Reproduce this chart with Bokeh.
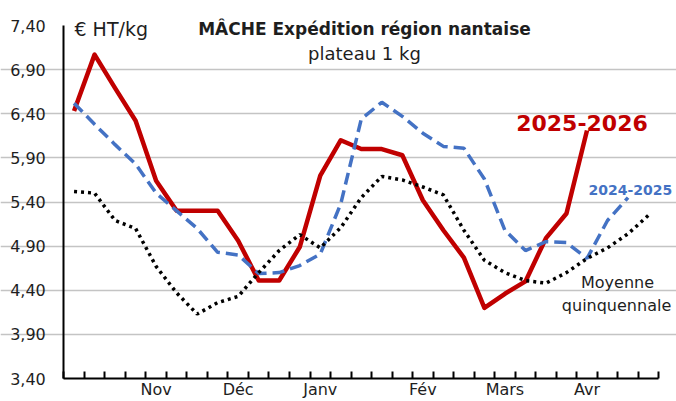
from bokeh.plotting import figure
from bokeh.models import Range1d, FixedTicker, CustomJSTickFormatter, Label, ColumnDataSource
from bokeh.embed import file_html
from bokeh.resources import INLINE

# ---- data (weekly prices, € HT/kg) ----
weeks = list(range(29))
s_2025_2026 = [6.43, 7.07, 6.69, 6.32, 5.64, 5.30, 5.30, 5.30, 4.96, 4.51, 4.51, 4.89, 5.70,
               6.10, 6.00, 6.00, 5.93, 5.42, 5.08, 4.77, 4.20, 4.36, 4.50, 4.99, 5.27, 6.21]
s_2024_2025 = [6.52, 6.28, 6.05, 5.83, 5.50, 5.30, 5.10, 4.83, 4.80, 4.59, 4.60, 4.68, 4.81, 5.38,
               6.34, 6.53, 6.37, 6.18, 6.03, 6.01, 5.66, 5.08, 4.85, 4.95, 4.94, 4.76, 5.19, 5.45]
s_moyenne = [5.52, 5.50, 5.19, 5.10, 4.67, 4.37, 4.13, 4.26, 4.33, 4.60, 4.85, 5.03, 4.88, 5.11,
             5.45, 5.69, 5.65, 5.57, 5.48, 5.08, 4.74, 4.60, 4.51, 4.48, 4.60, 4.76, 4.88, 5.04, 5.25]
month_labels = ["Nov", "Déc", "Janv", "Fév", "Mars", "Avr"]
month_pos = [4, 8, 12, 17, 21, 25]
y_ticks = [3.40, 3.90, 4.40, 4.90, 5.40, 5.90, 6.40, 6.90, 7.40]

FONT = "DejaVu Sans"
TXT = "#1e1e1e"
X0, X1 = -0.5, len(weeks) - 0.5

p = figure(width=676, height=401, output_backend="svg", toolbar_location=None,
           x_range=Range1d(-3.585, 29.363), y_range=Range1d(3.1394, 7.6833),
           min_border_left=0, min_border_right=0, min_border_top=0, min_border_bottom=0)
p.outline_line_color = None
p.background_fill_color = "white"
p.border_fill_color = "white"

# axes (drawn at the data edges of the chart area)
p.yaxis.fixed_location = X0
p.yaxis.bounds = (y_ticks[0], y_ticks[-1])
p.yaxis.ticker = FixedTicker(ticks=y_ticks)
p.yaxis.formatter = CustomJSTickFormatter(code="return tick.toFixed(2).replace('.', ',');")
p.yaxis.axis_line_width = 2
p.yaxis.axis_line_color = "black"
p.yaxis.major_tick_out = 0
p.yaxis.major_tick_in = 0
p.yaxis.minor_tick_out = 0
p.yaxis.minor_tick_in = 0
p.yaxis.major_label_standoff = 18
p.yaxis.major_label_text_font = FONT
p.yaxis.major_label_text_font_size = "16px"
p.yaxis.major_label_text_color = TXT

p.xaxis.fixed_location = y_ticks[0]
p.xaxis.bounds = (X0, X1)
p.xaxis.ticker = FixedTicker(ticks=month_pos, minor_ticks=[w - 0.5 for w in weeks] + [X1])
p.xaxis.formatter = CustomJSTickFormatter(args=dict(pos=month_pos, labels=month_labels),
                                          code="const i = pos.indexOf(Math.round(tick)); return i >= 0 ? labels[i] : '';")
p.xaxis.axis_line_width = 2
p.xaxis.axis_line_color = "black"
p.xaxis.major_tick_in = 0
p.xaxis.major_tick_out = 0
p.xaxis.minor_tick_in = 7
p.xaxis.minor_tick_out = 0
p.xaxis.minor_tick_line_width = 2
p.xaxis.minor_tick_line_color = "black"
p.xaxis.major_label_standoff = 1
p.xaxis.major_label_text_font = FONT
p.xaxis.major_label_text_font_size = "16px"
p.xaxis.major_label_text_color = TXT

p.xgrid.grid_line_color = None
p.ygrid.ticker = FixedTicker(ticks=y_ticks[1:-1])
p.ygrid.bounds = (X0, X1)
p.ygrid.grid_line_color = "#c4c4c4"
p.ygrid.grid_line_width = 1.5

# series
src_r = ColumnDataSource(dict(x=weeks[:len(s_2025_2026)], y=s_2025_2026))
src_b = ColumnDataSource(dict(x=weeks[:len(s_2024_2025)], y=s_2024_2025))
src_m = ColumnDataSource(dict(x=weeks[:len(s_moyenne)], y=s_moyenne))
p.line("x", "y", source=src_r, line_color="#c00000", line_width=4.5, line_join="round")
p.line("x", "y", source=src_b, line_color="#4472c4", line_width=3.5, line_dash="12 6")
p.line("x", "y", source=src_m, line_color="black", line_width=3.5, line_dash="3 4")

def lab(x, y, text, size, align="left", bold=False, color=TXT):
    p.add_layout(Label(x=x, y=y, text=text, text_font=FONT, text_font_size=size,
                       text_align=align, text_baseline="alphabetic", text_color=color,
                       text_font_style="bold" if bold else "normal"))

lab(0.02, 7.366, "€ HT/kg", "19px")
lab(14.156, 7.366, "MÂCHE Expédition région nantaise", "17px", align="center", bold=True)
lab(14.156, 7.083, "plateau 1 kg", "18px", align="center")
lab(21.55, 6.30, "2025-2026", "22px", bold=True, color="#c00000")
lab(25.074, 5.541, "2024-2025", "14px", bold=True, color="#4472c4")
lab(26.487, 4.487, "Moyenne", "16px", align="center")
lab(26.44, 4.227, "quinquennale", "16px", align="center")

open("out.html", "w").write(file_html(p, INLINE))
